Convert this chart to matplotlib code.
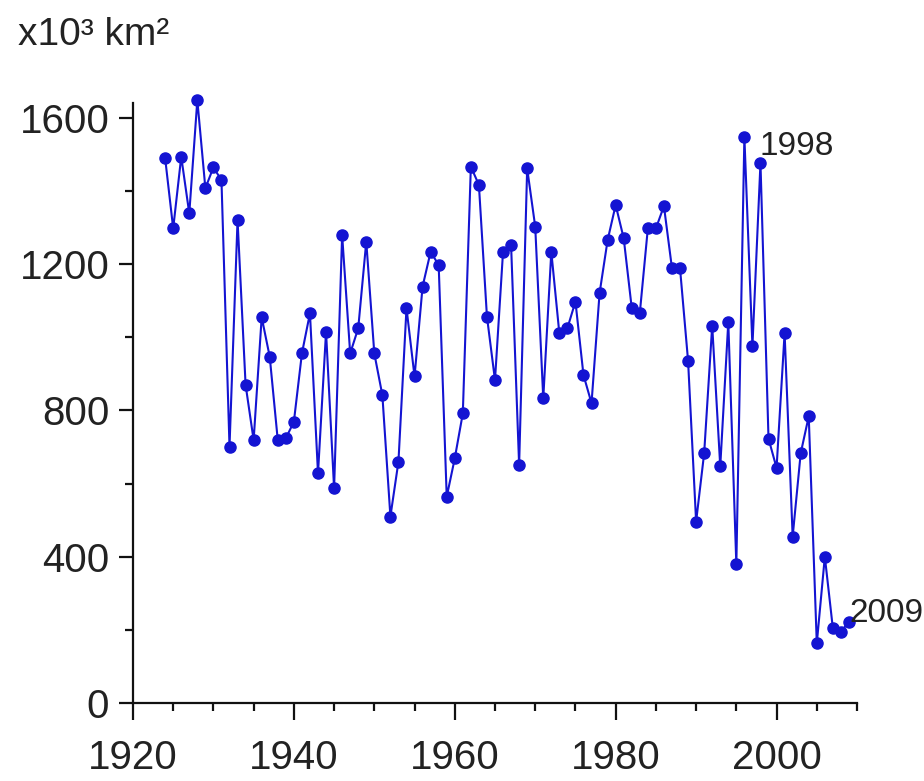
import numpy as np
import matplotlib
matplotlib.use('Agg')
import matplotlib.pyplot as plt
from matplotlib.ticker import MultipleLocator

# yearly values, x10^3 km^2
years = list(range(1924, 2010))
area = [1490, 1298, 1494, 1339, 1649, 1408, 1465, 1430, 701, 1321,
        870, 719, 1055, 947, 719, 724, 769, 956, 1066, 628,
        1015, 587, 1280, 956, 1025, 1262, 956, 842, 510, 660,
        1080, 893, 1139, 1234, 1198, 564, 669, 792, 1467, 1417,
        1057, 883, 1234, 1253, 651, 1462, 1303, 833, 1234, 1011,
        1025, 1098, 897, 820, 1121, 1266, 1362, 1271, 1080, 1066,
        1298, 1298, 1359, 1189, 1189, 936, 496, 683, 1032, 647,
        1042, 379, 1548, 976, 1477, 723, 643, 1012, 455, 683,
        784, 163, 400, 204, 195, 222]
labelled = [1998, 2009]
label_pos = [(1997.9, 1500), (2009.0, 222)]

plt.rcParams['font.family'] = ['Liberation Sans', 'DejaVu Sans']

blue = '#1414d2'

fig = plt.figure(figsize=(9.24, 7.81), dpi=100)
ax = fig.add_axes([0.1439, 0.0999, 0.7836, 0.7682])

ax.plot(years, area, color=blue, lw=1.5, marker='o', ms=8,
        mfc=blue, mec=blue, clip_on=False, zorder=3)

for yr, (tx, ty) in zip(labelled, label_pos):
    ax.text(tx, ty, str(yr), fontsize=24, color='#222222',
            ha='left', va='baseline')

ax.set_xlim(1920, 2010)
ax.set_ylim(0, 1641)
ax.xaxis.set_major_locator(MultipleLocator(20))
ax.xaxis.set_minor_locator(MultipleLocator(5))
ax.yaxis.set_major_locator(MultipleLocator(400))
ax.yaxis.set_minor_locator(MultipleLocator(200))

for s in ['top', 'right']:
    ax.spines[s].set_visible(False)
for s in ['left', 'bottom']:
    ax.spines[s].set_linewidth(1.6)
    ax.spines[s].set_color('#111111')

ax.tick_params(axis='both', which='major', length=10, width=1.6,
               labelsize=29, colors='#111111', labelcolor='#222222')
ax.tick_params(axis='both', which='minor', length=6, width=1.6,
               colors='#111111')
ax.tick_params(axis='x', which='major', length=12, pad=14)
ax.tick_params(axis='y', which='major', pad=7)

fig.text(0.0195, 0.943, 'x10³ km²', fontsize=28, color='#222222',
         ha='left', va='baseline')

fig.savefig('out.png', dpi=100)
